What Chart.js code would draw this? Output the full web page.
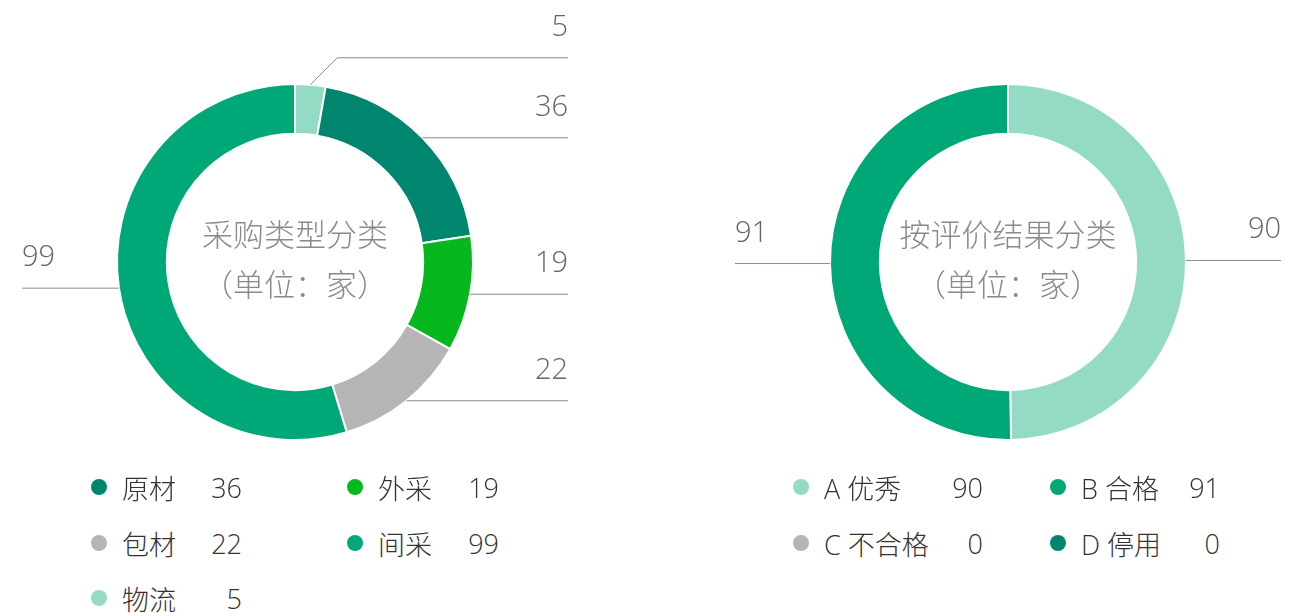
<!DOCTYPE html>
<html>
<head>
<meta charset="utf-8">
<script src="https://cdn.jsdelivr.net/npm/chart.js@4/dist/chart.umd.min.js"></script>
<style>
  body { margin: 0; background: #fff; width: 1290px; height: 613px; overflow: hidden; position: relative;
         font-family: "Open Sans", "Noto Sans CJK SC", sans-serif; }
  .box { position: absolute; top: 0; width: 645px; height: 470px; }
  .legend-item { position: absolute; display: flex; align-items: center; height: 36px; margin-top: -18px;
                 font-size: 27px; color: #333; font-weight: 300; }
  .legend-item .dot { width: 16px; height: 16px; border-radius: 50%; flex: none; }
  .legend-item .name { margin-left: 15px; white-space: nowrap; }
  .legend-item .val { margin-left: auto; }
</style>
</head>
<body>
<div class="box" style="left:0"><canvas id="tipoChart"></canvas></div>
<div class="box" style="left:645px"><canvas id="notaChart"></canvas></div>
<div id="leyendas"></div>
<script>
// 采购类型分类
const tipo_nombres = ['物流', '原材', '外采', '包材', '间采'];
const tipo_valores = [5, 36, 19, 22, 99];
const tipo_colores = ['#94dbc6', '#00866e', '#06b81e', '#b4b5b4', '#00a878'];
const tipo_orden_leyenda = ['原材', '外采', '包材', '间采', '物流'];

// 按评价结果分类
const nota_nombres = ['A 优秀', 'B 合格', 'C 不合格', 'D 停用'];
const nota_valores = [90, 91, 0, 0];
const nota_colores = ['#94dbc6', '#00a878', '#b4b5b4', '#00866e'];

const FUENTE = '"Open Sans", "Noto Sans CJK SC", sans-serif';

// lineas guia + valores
const guias = {
    id: 'guias',
    afterDatasetsDraw(chart, args, opts) {
        const ctx = chart.ctx;
        const meta = chart.getDatasetMeta(0);
        const valores = chart.data.datasets[0].data;
        const items = [];
        meta.data.forEach((arc, i) => {
            if (!valores[i]) return;
            const p = arc.getProps(['x', 'y', 'startAngle', 'endAngle', 'outerRadius'], true);
            const mid = (p.startAngle + p.endAngle) / 2;
            const px = p.x + Math.cos(mid) * p.outerRadius;
            const py = p.y + Math.sin(mid) * p.outerRadius;
            items.push({ v: valores[i], px, py, ly: py, der: Math.cos(mid) >= 0, cx: p.x, r: p.outerRadius });
        });
        [true, false].forEach(lado => {
            const lista = items.filter(it => it.der === lado).sort((a, b) => b.ly - a.ly);
            for (let k = 1; k < lista.length; k++) {
                if (lista[k - 1].ly - lista[k].ly < opts.gap) lista[k].ly = lista[k - 1].ly - opts.gap;
            }
        });
        ctx.save();
        ctx.strokeStyle = '#8c8c8c';
        ctx.lineWidth = 1;
        ctx.fillStyle = '#666';
        ctx.font = '300 29px ' + FUENTE;
        ctx.textBaseline = 'alphabetic';
        items.forEach(it => {
            const dir = it.der ? 1 : -1;
            const finX = it.cx + dir * (it.r + opts.extra);
            const dy = Math.abs(it.ly - it.py);
            ctx.beginPath();
            ctx.moveTo(it.px, it.py);
            if (dy > 1) ctx.lineTo(it.px + dir * dy, it.ly);
            ctx.lineTo(finX, it.ly);
            ctx.stroke();
            ctx.textAlign = it.der ? 'right' : 'left';
            ctx.fillText(String(it.v), finX, it.ly - 22);
        });
        ctx.restore();
    }
};

const titulo_centro = {
    id: 'titulo_centro',
    afterDraw(chart, args, opts) {
        const arc = chart.getDatasetMeta(0).data.find(a => a);
        const ctx = chart.ctx;
        ctx.save();
        ctx.fillStyle = '#8a8a8a';
        ctx.font = '300 31px ' + FUENTE;
        ctx.textAlign = 'center';
        ctx.textBaseline = 'middle';
        ctx.fillText(opts.lineas[0], arc.x, arc.y - 25);
        ctx.fillText(opts.lineas[1], arc.x, arc.y + 25);
        ctx.restore();
    }
};

function dibujar_dona(canvas, nombres, valores, colores, lineas, padding) {
    new Chart(canvas, {
        type: 'doughnut',
        data: {
            labels: nombres,
            datasets: [{
                data: valores,
                backgroundColor: colores,
                borderColor: '#fff',
                borderWidth: 2,
                hoverOffset: 0
            }]
        },
        options: {
            responsive: true,
            maintainAspectRatio: false,
            animation: false,
            cutout: '72%',
            layout: { padding: padding },
            plugins: {
                legend: { display: false },
                tooltip: { enabled: false },
                guias: { gap: 80, extra: 95 },
                titulo_centro: { lineas: lineas }
            }
        },
        plugins: [guias, titulo_centro]
    });
}

dibujar_dona(document.getElementById('tipoChart'), tipo_nombres, tipo_valores, tipo_colores,
    ['采购类型分类', '（单位：家）'], { left: 116, top: 83, right: 171, bottom: 29 });
dibujar_dona(document.getElementById('notaChart'), nota_nombres, nota_valores, nota_colores,
    ['按评价结果分类', '（单位：家）'], { left: 184, top: 83, right: 103, bottom: 29 });

function llenar_leyenda(nombres, valores, colores, orden, columnas, filas) {
    const cont = document.getElementById('leyendas');
    orden.forEach((nombre, k) => {
        const i = nombres.indexOf(nombre);
        const col = columnas[k % 2];
        const fila = filas[Math.floor(k / 2)];
        const item = document.createElement('div');
        item.className = 'legend-item';
        item.style.left = col.left + 'px';
        item.style.width = col.width + 'px';
        item.style.top = fila + 'px';
        item.innerHTML = `<span class="dot" style="background:${colores[i]}"></span>
            <span class="name">${nombre}</span><span class="val">${valores[i]}</span>`;
        cont.appendChild(item);
    });
}

llenar_leyenda(tipo_nombres, tipo_valores, tipo_colores, tipo_orden_leyenda,
    [{ left: 91, width: 151 }, { left: 347, width: 152 }], [487, 543, 598]);
llenar_leyenda(nota_nombres, nota_valores, nota_colores, nota_nombres,
    [{ left: 793, width: 190 }, { left: 1050, width: 170 }], [487, 543]);
</script>
</body>
</html>
